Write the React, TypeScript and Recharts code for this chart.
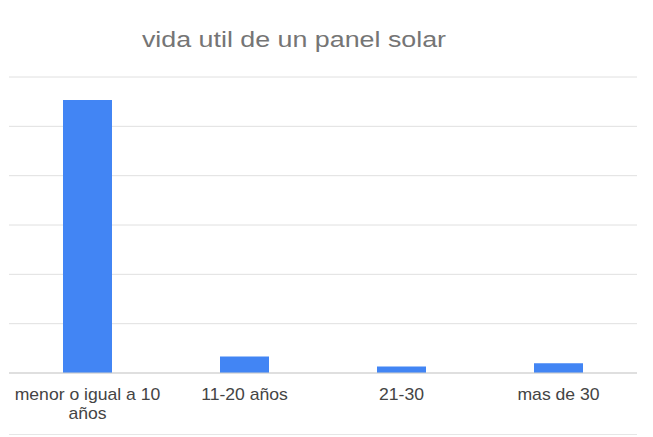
import { BarChart, Bar, XAxis, YAxis, CartesianGrid } from "recharts";

const categories = ["menor o igual a 10 años", "11-20 años", "21-30", "mas de 30"];
const respuestas = [83, 5, 2, 3];
const yTicks = [0, 15, 30, 45, 60, 75, 90];
const title = "vida util de un panel solar";

const data = categories.map((c, i) => ({ rango: c, valor: respuestas[i] }));

const FONT = "'Liberation Sans', Arial, sans-serif";

function wrap(label: string, maxChars: number) {
  const lines: string[] = [];
  let cur = "";
  for (const w of label.split(" ")) {
    const next = cur ? cur + " " + w : w;
    if (next.length > maxChars && cur) {
      lines.push(cur);
      cur = w;
    } else {
      cur = next;
    }
  }
  if (cur) lines.push(cur);
  return lines;
}

function Tick(props: any) {
  const { x, y, payload } = props;
  const lines = wrap(String(payload.value), 18);
  return (
    <g transform={`translate(${x},${y}) scale(1.1,1)`}>
      {lines.map((l, i) => (
        <text
          key={i}
          x={0}
          y={19 + i * 19}
          textAnchor="middle"
          fontFamily={FONT}
          fontSize={16}
          fill="#444"
        >
          {l}
        </text>
      ))}
    </g>
  );
}

export default function App() {
  return (
    <div style={{ position: "absolute", left: 0, top: 0, width: 653, height: 437, background: "#fff" }}>
      <BarChart
        width={653}
        height={437}
        data={data}
        margin={{ top: 77, right: 16, bottom: 4, left: 9 }}
      >
        <CartesianGrid vertical={false} stroke="#e0e0e0" />
        <YAxis hide domain={[0, 90]} ticks={yTicks} />
        <XAxis
          dataKey="rango"
          height={60}
          tickLine={false}
          axisLine={{ stroke: "#cfcfcf" }}
          interval={0}
          tick={<Tick />}
        />
        <Bar dataKey="valor" fill="#4285f4" barSize={49} isAnimationActive={false} />
      </BarChart>
      <svg
        width={653}
        height={437}
        style={{ position: "absolute", left: 0, top: 0, pointerEvents: "none" }}
      >
        <text
          transform="translate(294,47) scale(1.22,1)"
          textAnchor="middle"
          fontFamily={FONT}
          fontSize={22}
          fill="#757575"
        >
          {title}
        </text>
        <line x1={9} x2={637} y1={434.5} y2={434.5} stroke="#e6e6e6" />
      </svg>
    </div>
  );
}
